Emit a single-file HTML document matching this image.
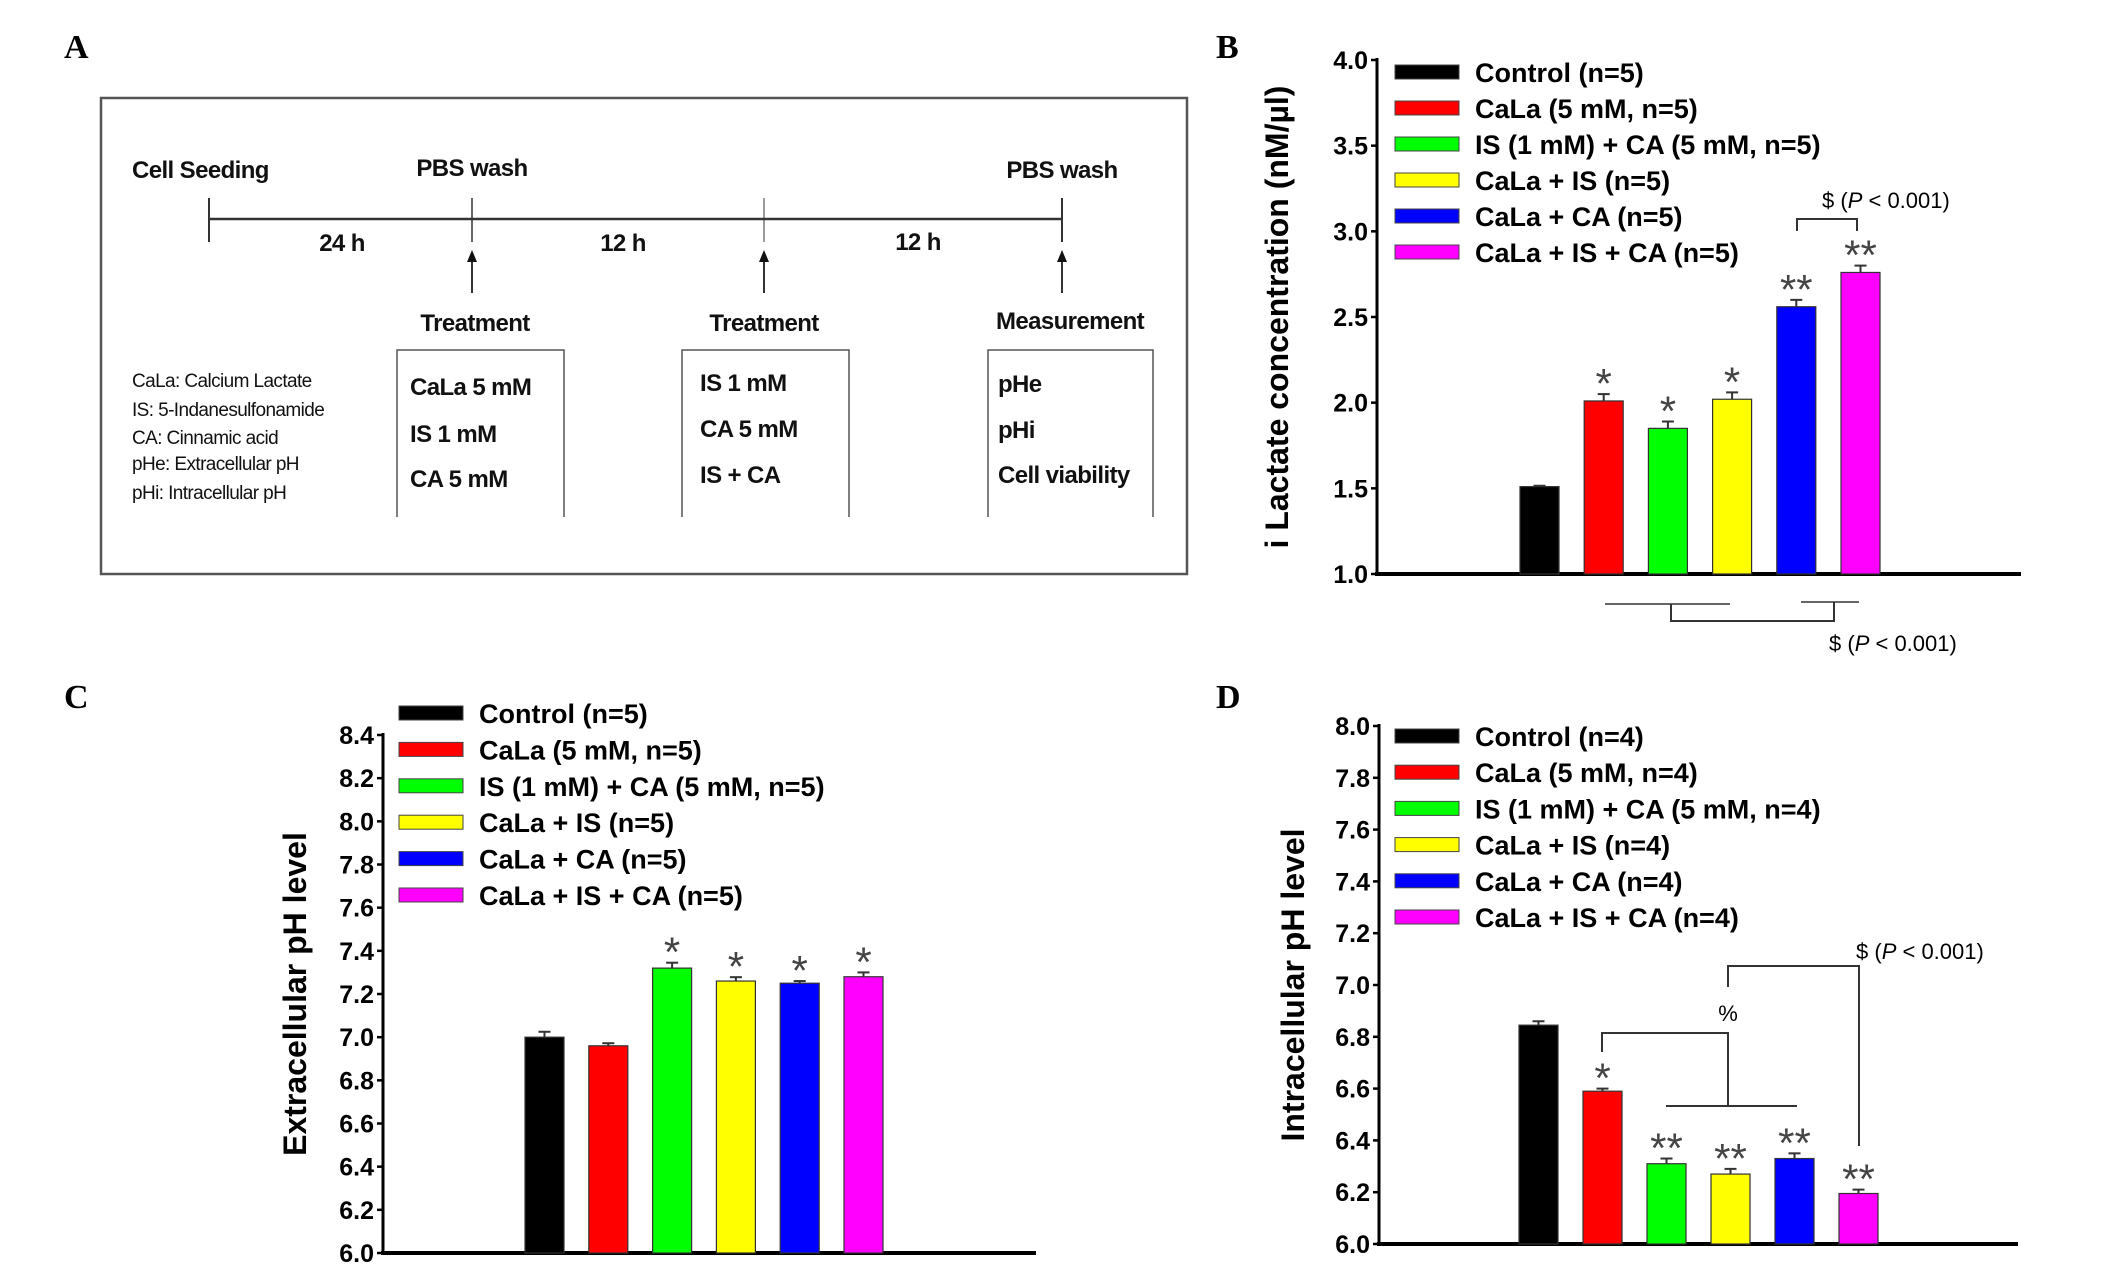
<!DOCTYPE html>
<html><head><meta charset="utf-8"><style>
body{margin:0;background:#fff}
svg{display:block;font-family:"Liberation Sans",sans-serif}
.b{font-weight:bold}
</style></head><body>
<svg id="fig" width="2126" height="1285" viewBox="0 0 2126 1285" xmlns="http://www.w3.org/2000/svg">
<g font-family="Liberation Serif,serif" font-weight="bold" font-size="34">
<text x="64" y="58">A</text>
<text x="1216" y="58">B</text>
<text x="64" y="708">C</text>
<text x="1216" y="708">D</text>
</g>
<g stroke="#333" fill="#111">
<rect x="101" y="98" width="1086" height="476" fill="none" stroke="#555" stroke-width="2.5"/>
<line x1="209" y1="219" x2="1062" y2="219" stroke-width="2.5"/>
<line x1="209" y1="198" x2="209" y2="242" stroke-width="2"/>
<line x1="472" y1="198" x2="472" y2="242" stroke-width="1.5"/>
<line x1="764" y1="198" x2="764" y2="242" stroke-width="1"/>
<line x1="1062" y1="198" x2="1062" y2="242" stroke-width="2"/>
<g stroke-width="2">
<line x1="472" y1="293" x2="472" y2="258"/><polygon points="467,262 477,262 472,250" stroke="none"/>
<line x1="764" y1="293" x2="764" y2="258"/><polygon points="759,262 769,262 764,250" stroke="none"/>
<line x1="1062" y1="293" x2="1062" y2="258"/><polygon points="1057,262 1067,262 1062,250" stroke="none"/>
</g>
<g stroke="none" class="b" font-size="24" letter-spacing="-0.6">
<text x="132" y="178">Cell Seeding</text>
<text x="472" y="176" text-anchor="middle">PBS wash</text>
<text x="1062" y="178" text-anchor="middle">PBS wash</text>
<text x="342" y="251" text-anchor="middle">24 h</text>
<text x="623" y="251" text-anchor="middle">12 h</text>
<text x="918" y="250" text-anchor="middle">12 h</text>
<text x="475" y="331" text-anchor="middle">Treatment</text>
<text x="764" y="331" text-anchor="middle">Treatment</text>
<text x="1070" y="329" text-anchor="middle">Measurement</text>
<text x="410" y="395">CaLa 5 mM</text><text x="410" y="442">IS 1 mM</text><text x="410" y="487">CA 5 mM</text>
<text x="700" y="391">IS 1 mM</text><text x="700" y="437">CA 5 mM</text><text x="700" y="483">IS + CA</text>
<text x="998" y="392">pHe</text><text x="998" y="438">pHi</text><text x="998" y="483">Cell viability</text>
</g>
<g fill="none" stroke="#555" stroke-width="1.5">
<path d="M397,517 V350 H564 V517"/><path d="M682,517 V350 H849 V517"/><path d="M988,517 V350 H1153 V517"/>
</g>
<g stroke="none" font-size="19" letter-spacing="-0.6">
<text x="132" y="387">CaLa: Calcium Lactate</text>
<text x="132" y="416">IS: 5-Indanesulfonamide</text>
<text x="132" y="444">CA: Cinnamic acid</text>
<text x="132" y="470">pHe: Extracellular pH</text>
<text x="132" y="499">pHi: Intracellular pH</text>
</g>
</g>
<g id="charts"></g>
</svg>
<script>
const labelsB = ["Control (n=5)","CaLa (5 mM, n=5)","IS (1 mM) + CA (5 mM, n=5)","CaLa + IS (n=5)","CaLa + CA (n=5)","CaLa + IS + CA (n=5)"];
const labelsC = ["Control (n=5)","CaLa (5 mM, n=5)","IS (1 mM) + CA (5 mM, n=5)","CaLa + IS (n=5)","CaLa + CA (n=5)","CaLa + IS + CA (n=5)"];
const labelsD = ["Control (n=4)","CaLa (5 mM, n=4)","IS (1 mM) + CA (5 mM, n=4)","CaLa + IS (n=4)","CaLa + CA (n=4)","CaLa + IS + CA (n=4)"];
const colors = ["#000000","#ff0000","#00ff00","#ffff00","#0000ff","#ff00ff"];
const valuesB = [1.51,2.01,1.85,2.02,2.56,2.76];
const errorsB = [0.005,0.04,0.04,0.04,0.04,0.04];
const marksB = ["","*","*","*","**","**"];
const ticksB = [1.0,1.5,2.0,2.5,3.0,3.5,4.0];
const valuesC = [7.00,6.96,7.32,7.26,7.25,7.28];
const errorsC = [0.025,0.012,0.025,0.018,0.01,0.02];
const marksC = ["","","*","*","*","*"];
const ticksC = [6.0,6.2,6.4,6.6,6.8,7.0,7.2,7.4,7.6,7.8,8.0,8.2,8.4];
const valuesD = [6.845,6.59,6.31,6.27,6.33,6.195];
const errorsD = [0.015,0.01,0.02,0.02,0.02,0.015];
const marksD = ["","*","**","**","**","**"];
const ticksD = [6.0,6.2,6.4,6.6,6.8,7.0,7.2,7.4,7.6,7.8,8.0];

const NS="http://www.w3.org/2000/svg";
const root=document.getElementById('charts');
function mk(tag,attrs,parent,text){const e=document.createElementNS(NS,tag);for(const k in attrs)e.setAttribute(k,attrs[k]);if(text!==undefined)e.textContent=text;(parent||root).appendChild(e);return e;}

function chart(cfg){
  const g=mk('g',{});
  
  
  const y=v=>cfg.y0+(v-cfg.vmin)/(cfg.vmax-cfg.vmin)*(cfg.y1-cfg.y0);
  const x=i=>cfg.bx0+i*cfg.step;
  const ya=mk('line',{x1:cfg.ax,y1:cfg.y1-2,x2:cfg.ax,y2:cfg.y0,stroke:'#000','stroke-width':3},g);
  
  
  const xa=mk('line',{x1:cfg.ax-2,y1:cfg.y0,x2:cfg.axEnd,y2:cfg.y0,stroke:'#000','stroke-width':4},g);
  
  
  cfg.ticks.forEach(t=>{
    mk('line',{x1:cfg.ax-6,y1:y(t),x2:cfg.ax,y2:y(t),stroke:'#000','stroke-width':2.5},g);
    const tl=mk('text',{x:cfg.ax-9,y:y(t)+9,'text-anchor':'end','font-size':25,'font-weight':'bold'},g,t.toFixed(1));
    
    
  });
  const tt=mk('text',{transform:`translate(${cfg.titleX},${(cfg.y0+cfg.y1)/2}) rotate(-90)`,'text-anchor':'middle','font-size':32,'font-weight':'bold'},g,cfg.title);
  
  
  cfg.labels.forEach((l,i)=>{
    const ly=cfg.legY+i*cfg.legStep;
    const sw=mk('rect',{x:cfg.legX,y:ly-7,width:64,height:14,fill:colors[i],stroke:'#444','stroke-width':1},g);
    
    
    const lt=mk('text',{x:cfg.legX+80,y:ly+10,'font-size':27,'font-weight':'bold'},g,l);
    
    
  });
  cfg.values.forEach((v,i)=>{
    const top=y(v), et=y(v+cfg.errors[i]);
    const cx=x(i)+cfg.bw/2;
    mk('line',{x1:cx,y1:top,x2:cx,y2:et,stroke:'#333','stroke-width':2},g);
    mk('line',{x1:cx-6,y1:et,x2:cx+6,y2:et,stroke:'#333','stroke-width':2},g);
    const b=mk('rect',{x:x(i),y:top,width:cfg.bw,height:cfg.y0-top,fill:colors[i],stroke:'#333','stroke-width':1.2},g);
    
    
    if(cfg.marks[i]){
      const m=mk('text',{x:cx,y:et+4,'text-anchor':'middle','font-size':42,fill:'#444'},g,cfg.marks[i]);
      
      
    }
  });
  return g;
}
const gB=chart({name:'chart-b-lactate',ax:1377,axEnd:2021,y0:574,y1:60,vmin:1,vmax:4,ticks:ticksB,values:valuesB,errors:errorsB,marks:marksB,labels:labelsB,bx0:1520,step:64.2,bw:39,legX:1395,legY:72,legStep:36,titleX:1288,title:'i Lactate concentration (nM/\u00b5l)'});
const gC=chart({name:'chart-c-extracellular-ph',ax:383,axEnd:1036,y0:1253,y1:735,vmin:6,vmax:8.4,ticks:ticksC,values:valuesC,errors:errorsC,marks:marksC,labels:labelsC,bx0:525,step:63.8,bw:39,legX:399,legY:713,legStep:36.4,titleX:306,title:'Extracellular pH level'});
const gD=chart({name:'chart-d-intracellular-ph',ax:1379,axEnd:2018,y0:1244,y1:726,vmin:6,vmax:8,ticks:ticksD,values:valuesD,errors:errorsD,marks:marksD,labels:labelsD,bx0:1519,step:64,bw:39,legX:1395,legY:736,legStep:36.2,titleX:1304,title:'Intracellular pH level'});
function path(d,parent,name,color){const p=mk('path',{d:d,fill:'none',stroke:color||'#333','stroke-width':2},parent);}
function ptext(x,y,parent,name,anchor){const t=mk('text',{x:x,y:y,'font-size':22,'text-anchor':anchor||'start'},parent);
 mk('tspan',{},t,'$ (');mk('tspan',{'font-style':'italic'},t,'P');mk('tspan',{},t,' < 0.001)');}
path('M1797,231 V219 H1857 V231',gB,'significance-bracket-top');
ptext(1822,208,gB,'p-value-label-top');
path('M1605,604 H1730 M1801,602 H1859',gB,'group-lines','#666');
path('M1671,604 V621 H1834 V602',gB,'significance-bracket-bottom');
ptext(1829,651,gB,'p-value-label-bottom');
path('M1602,1052 V1033 H1728 V1106 M1666,1106 H1797',gD,'percent-bracket');
const pc=mk('text',{x:1728,y:1021,'font-size':22,'text-anchor':'middle'},gD,'%');


path('M1728,987 V966 H1859 V1146',gD,'significance-bracket-d');
ptext(1856,959,gD,'p-value-label-d');
</script>
</body></html>
